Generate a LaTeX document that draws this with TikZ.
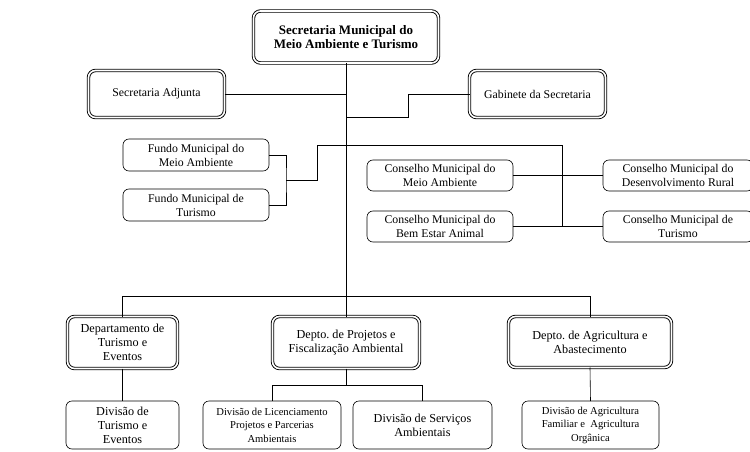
\documentclass[tikz,border=0pt]{standalone}
\usepackage{fontspec}
\setmainfont{Liberation Serif}
\frenchspacing
\begin{document}
\begin{tikzpicture}[x=1pt,y=-1pt,
  every node/.style={inner sep=0pt,outer sep=0pt,align=center},
  dbox/.style={draw,rounded corners=7pt,double,double distance=1.6pt,line width=0.9pt,
    font=\fontsize{12.2}{14}\selectfont\frenchspacing},
  sbox/.style={draw,rounded corners=6pt,line width=0.6pt,
    font=\fontsize{11.8}{14}\selectfont},
  small/.style={font=\fontsize{10.6}{13.5}\selectfont},
  link/.style={draw,line width=0.6pt}]
\useasboundingbox (0,0) rectangle (750,452);

% head office
\node[dbox,minimum width=185pt,minimum height=52pt,font=\fontsize{13}{14.5}\selectfont\bfseries]
  (top) at (346,37) {Secretaria Municipal do\\Meio Ambiente e Turismo};
\node[dbox,minimum width=136pt,minimum height=47pt,font=\fontsize{11.8}{14}\selectfont]
  (adj) at (156.5,94) {Secretaria Adjunta};
\node[dbox,minimum width=136pt,minimum height=47pt,font=\fontsize{11.8}{14}\selectfont]
  (gab) at (537.5,94) {Gabinete da Secretaria};

% funds
\node[sbox,minimum width=146pt,minimum height=32pt] (f1) at (196,155) {Fundo Municipal do\\Meio Ambiente};
\node[sbox,minimum width=146pt,minimum height=32pt] (f2) at (196,205) {Fundo Municipal de\\Turismo};

% councils
\node[sbox,minimum width=146pt,minimum height=31pt] (cmma) at (440,175.5) {Conselho Municipal do\\Meio Ambiente};
\node[sbox,minimum width=146pt,minimum height=31pt] (cmbea) at (440,226.5) {Conselho Municipal do\\Bem Estar Animal};
\node[sbox,minimum width=150pt,minimum height=31pt] (cmdr) at (678,175.5) {Conselho Municipal do\\Desenvolvimento Rural};
\node[sbox,minimum width=150pt,minimum height=31pt] (cmt) at (678,226.5) {Conselho Municipal de\\Turismo};

% departments
\node[dbox,minimum width=110pt,minimum height=52pt] (dtur) at (122.5,342.5) {Departamento de\\Turismo e\\Eventos};
\node[dbox,minimum width=147pt,minimum height=52pt] (dproj) at (346,342.5) {Depto. de Projetos e\\Fiscalização Ambiental};
\node[dbox,minimum width=163pt,minimum height=51pt] (dagr) at (590,342) {Depto. de Agricultura e\\Abastecimento};

% divisions
\node[sbox,minimum width=113pt,minimum height=48pt,font=\fontsize{12.2}{14}\selectfont] (vtur) at (122.5,425) {Divisão de\\Turismo e\\Eventos};
\node[sbox,small,minimum width=138pt,minimum height=48pt] (vlic) at (272,425) {Divisão de Licenciamento\\Projetos e Parcerias\\Ambientais};
\node[sbox,minimum width=139pt,minimum height=48pt,font=\fontsize{12.2}{14}\selectfont] (vserv) at (422.5,425) {Divisão de Serviços\\Ambientais};
\node[sbox,small,minimum width=137pt,minimum height=48pt] (vagr) at (590.5,425) {Divisão de Agricultura\\Familiar e\ \ Agricultura\\Orgânica};

% junction points
\coordinate (bar) at (346,296);
\coordinate (fj) at (286,180);
\coordinate (cj) at (562,145);
\coordinate (pj) at (346,385);

% connectors
\path[link] (top.south) -- (bar);
\path[link] (adj.east) -- (adj.east -| top.south);
\path[link] (gab.west) -- (408,94) -- (408,117) -- (346,117);
\path[link] (f1.east) -| (fj) |- (f2.east);
\path[link] (fj) -- (317,180) -- (317,145) -- (cj) -- (562,226.5);
\path[link] (cmma.east) -- (cmdr.west);
\path[link] (cmbea.east) -- (cmt.west);
\path[link] (dtur.north |- bar) -- (dagr.north |- bar);
\path[link] (dtur.north |- bar) -- (dtur.north);
\path[link] (bar) -- (dproj.north);
\path[link] (dagr.north |- bar) -- (dagr.north);
\path[link] (dtur.south) -- (vtur.north);
\path[link] (dproj.south) -- (pj);
\path[link] (vlic.north |- pj) -- (vserv.north |- pj);
\path[link] (vlic.north |- pj) -- (vlic.north);
\path[link] (vserv.north |- pj) -- (vserv.north);
\path[link] (dagr.south) -- (vagr.north);
\end{tikzpicture}
\end{document}
